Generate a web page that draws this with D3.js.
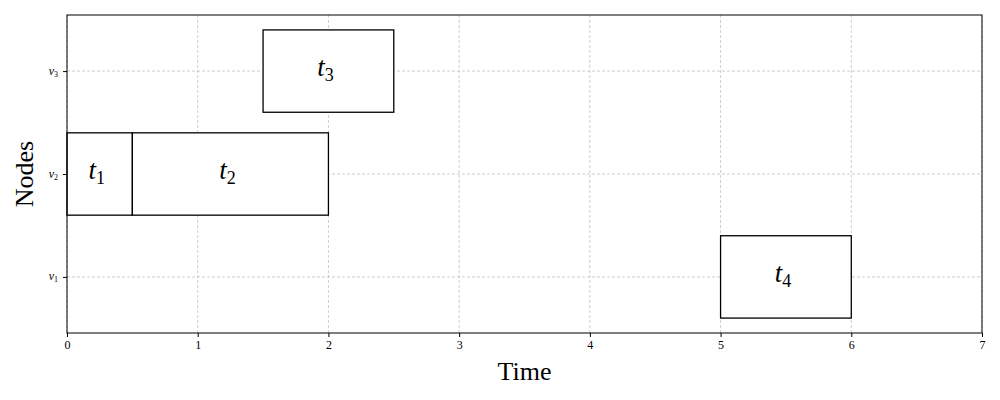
<!DOCTYPE html>
<html>
<head>
<meta charset="utf-8">
<script src="https://cdn.jsdelivr.net/npm/d3@7"></script>
<style>
  body { margin: 0; background: #fff; }
  text { font-family: "Liberation Serif", "DejaVu Serif", serif; }
</style>
</head>
<body>
<div id="chart"></div>
<script>
// task schedule
const taskNames = ["1", "2", "3", "4"];
const taskNodes = [2, 2, 3, 1];
const taskStart = [0, 0.5, 1.5, 5];
const taskEnd = [0.5, 2, 2.5, 6];
const nodeTicks = [1, 2, 3];
const timeTicks = [0, 1, 2, 3, 4, 5, 6, 7];

const margin = {top: 15, right: 18, bottom: 67, left: 67},
    width = 1000 - margin.left - margin.right,
    height = 400 - margin.top - margin.bottom;

const x = d3.scaleLinear().domain([0, 7]).range([0, width]);
const y = d3.scaleLinear().domain([0.455, 3.545]).range([height, 0]);
const barH = y(0) - y(0.8);

const svg = d3.select("#chart").append("svg")
    .attr("width", 1000)
    .attr("height", 400)
  .append("g")
    .attr("transform", "translate(" + margin.left + "," + margin.top + ")");

// grid
svg.append("g").selectAll("line.gx")
  .data(timeTicks)
  .enter().append("line")
    .attr("x1", d => x(d)).attr("x2", d => x(d))
    .attr("y1", 0).attr("y2", height)
    .attr("stroke", "#b8b8b8").attr("stroke-width", 0.7)
    .attr("stroke-dasharray", "3,2");
svg.append("g").selectAll("line.gy")
  .data(nodeTicks)
  .enter().append("line")
    .attr("x1", 0).attr("x2", width)
    .attr("y1", d => y(d)).attr("y2", d => y(d))
    .attr("stroke", "#b8b8b8").attr("stroke-width", 0.7)
    .attr("stroke-dasharray", "3,2");

// tasks
const tasks = taskNames.map((n, i) => ({name: n, node: taskNodes[i], s: taskStart[i], e: taskEnd[i]}));

svg.selectAll("rect.task")
  .data(tasks)
  .enter().append("rect")
    .attr("x", d => x(d.s))
    .attr("y", d => y(d.node) - barH / 2)
    .attr("width", d => x(d.e) - x(d.s))
    .attr("height", barH)
    .attr("fill", "#fff")
    .attr("stroke", "#000")
    .attr("stroke-width", 1.3);

const lbl = svg.selectAll("text.task")
  .data(tasks)
  .enter().append("text")
    .attr("x", d => x((d.s + d.e) / 2) - 3)
    .attr("y", d => y(d.node) + 5)
    .attr("text-anchor", "middle")
    .attr("font-size", 27);
lbl.append("tspan").attr("font-style", "italic").text("t");
lbl.append("tspan").attr("font-size", 18).attr("dy", 5).text(d => d.name);

// axes
svg.append("g")
  .attr("transform", "translate(0," + height + ")")
  .call(d3.axisBottom(x).tickValues(timeTicks).tickFormat(d3.format("d")).tickSize(4).tickPadding(3))
  .call(g => g.select(".domain").remove())
  .selectAll("text").attr("font-size", 12).attr("font-family", "Liberation Serif, serif");

const yAxis = svg.append("g")
  .call(d3.axisLeft(y).tickValues(nodeTicks).tickFormat("").tickSize(4));
yAxis.select(".domain").remove();
yAxis.selectAll(".tick").each(function(d) {
  const t = d3.select(this).append("text")
    .attr("x", -9).attr("y", 3)
    .attr("text-anchor", "end")
    .attr("fill", "#000")
    .attr("font-size", 12);
  t.append("tspan").attr("font-style", "italic").text("v");
  t.append("tspan").attr("font-size", 8).attr("dy", 2).text(d);
});

svg.append("rect")
  .attr("width", width).attr("height", height)
  .attr("fill", "none").attr("stroke", "#000").attr("stroke-width", 1);

svg.append("text")
  .attr("x", width / 2).attr("y", height + 47)
  .attr("text-anchor", "middle").attr("font-size", 26)
  .text("Time");

svg.append("text")
  .attr("transform", "translate(" + (-34) + "," + (height / 2) + ") rotate(-90)")
  .attr("text-anchor", "middle").attr("font-size", 26)
  .text("Nodes");
</script>
</body>
</html>
